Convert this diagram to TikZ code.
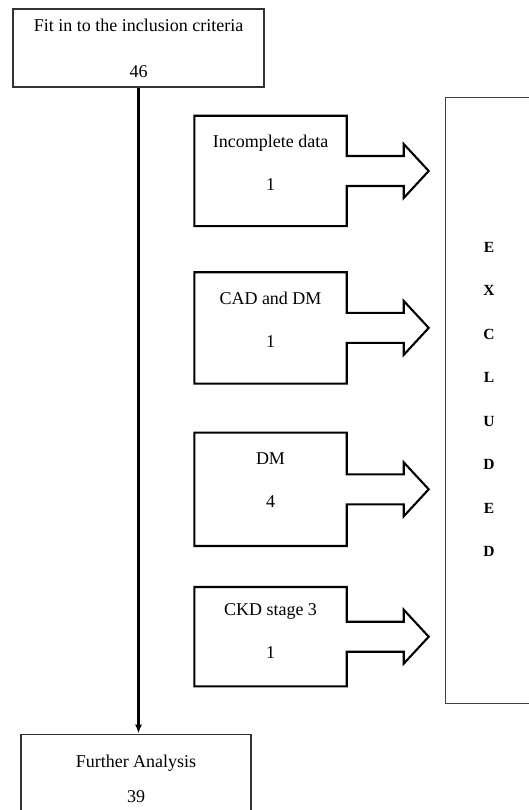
\documentclass[tikz,border=0pt]{standalone}
\usepackage{fontspec}
\setmainfont{Liberation Serif}
\usetikzlibrary{arrows.meta,positioning}

\begin{document}
\begin{tikzpicture}[
    x=1pt, y=-1pt,
    font=\fontsize{18}{21.6}\selectfont,
    mainbox/.style={draw=black!80, line width=1.2pt, align=center, inner sep=0pt},
    crbox/.style={minimum width=152pt, inner sep=0pt},
    crline/.style={line width=2.1pt, line join=miter},
    crtext/.style={anchor=north, align=center, inner sep=0pt},
    exletter/.style={font=\fontsize{15.5}{18}\selectfont\bfseries, inner sep=0pt},
    flow/.style={-{Latex[length=9pt,width=7pt]}, line width=2.2pt}
]
\useasboundingbox (0,0) rectangle (529,810);

\node[mainbox, minimum width=251pt, minimum height=78pt] (incl) at (138.5,48) {Fit in to the inclusion criteria\\[24.4pt]46};
\node[mainbox, minimum width=230pt, minimum height=89pt] (further) at (136,778.7) {Further Analysis\\[14pt]39};

% excluded reasons
\node[crbox, minimum height=110pt] (incomplete) at (270.5,171) {};
\node[crbox, minimum height=111pt, below=46pt of incomplete] (caddm) {};
\node[crbox, minimum height=113pt, below=49pt of caddm] (dm) {};
\node[crbox, minimum height=99pt, below=41pt of dm] (ckd) {};

\node[crtext] (incompletetxt) at ([yshift=-19pt]incomplete.north) {Incomplete data\\[21.4pt]1};
\node[crtext] (caddmtxt) at ([yshift=-20pt]caddm.north) {CAD and DM\\[21.4pt]1};
\node[crtext] (dmtxt) at ([yshift=-19.5pt]dm.north) {DM\\[21.4pt]4};
\node[crtext] (ckdtxt) at ([yshift=-16pt]ckd.north) {CKD stage 3\\[21.4pt]1};

\node[draw=black!75, line width=1.2pt, minimum width=160pt, minimum height=606pt, anchor=north west] (excluded) at (445,97) {};
\foreach \ltr [count=\i] in {E,X,C,L,U,D,E,D}
  \node[exletter] (ex\i) at (489,203.5+43.5*\i) {\ltr};

\foreach \b in {incomplete,caddm,dm,ckd}
  \draw[crline] ([yshift=15pt]\b.east) |- (\b.north west) -- (\b.south west) -| ([yshift=-15pt]\b.east)
    -- ++(57,0) -- ++(0,12) -- ++(25,-27) -- ++(-25,-27) -- ++(0,12) -- cycle;

\draw[flow] (incl.south) -- (incl.south |- further.north);
\end{tikzpicture}
\end{document}
